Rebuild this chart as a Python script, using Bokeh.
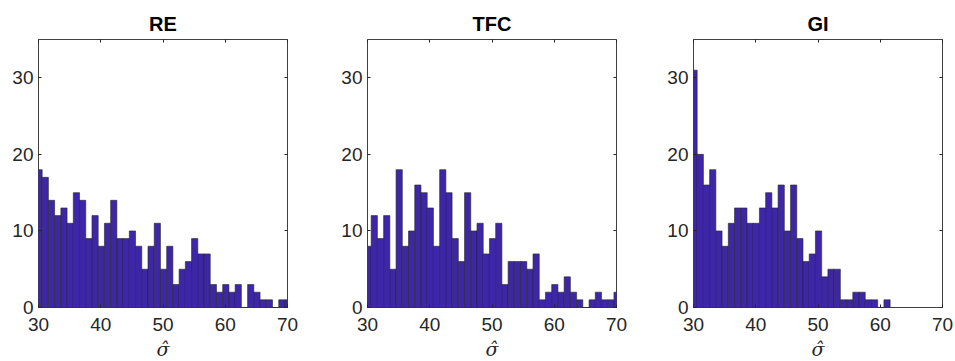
from bokeh.plotting import figure
from bokeh.layouts import row
from bokeh.models import LinearAxis, FixedTicker, Range1d, ColumnDataSource
from bokeh.embed import file_html
from bokeh.resources import INLINE

# Histogram bins: unit width, first edge just below 30
BIN_START = 29.59
BIN_WIDTH = 1.0

re_counts = [18, 17, 14, 12, 13, 11, 15, 14, 9, 12, 8, 11, 14, 9, 9, 10, 8, 5, 8, 11,
             5, 8, 3, 5, 6, 9, 7, 7, 3, 2, 3, 2, 3, 0, 3, 2, 1, 1, 0, 1, 1]
tfc_counts = [8, 12, 9, 12, 5, 18, 8, 10, 16, 15, 13, 8, 18, 15, 9, 6, 15, 10, 11,
              7, 9, 11, 3, 6, 6, 6, 5, 7, 1, 2, 3, 2, 4, 2, 1, 0, 1, 2, 1, 1, 2]
gi_counts = [31, 20, 16, 18, 10, 8, 11, 13, 13, 11, 11, 13, 15, 13, 16, 10, 16, 9, 6, 7,
             10, 4, 5, 5, 1, 1, 2, 2, 1, 1, 0, 1]

panel_titles = ["RE", "TFC", "GI"]
x_ticks = [30, 40, 50, 60, 70]
y_ticks = [0, 10, 20, 30]
x_label = "σ̂"

BAR_FILL = "#3e26a8"
EDGE = "#262626"
FONT = "Liberation Sans"


def make_panel(title, counts, border_left, border_right):
    lefts = [BIN_START + i * BIN_WIDTH for i in range(len(counts))]
    rights = [l + BIN_WIDTH for l in lefts]
    src = ColumnDataSource(dict(left=lefts, right=rights, top=counts,
                                bottom=[0] * len(counts)))
    p = figure(frame_width=249, frame_height=268,
               x_range=Range1d(30, 70), y_range=Range1d(0, 35),
               output_backend="svg", toolbar_location=None,
               min_border_left=border_left, min_border_right=border_right,
               min_border_top=39, min_border_bottom=54,
               background_fill_color="white", border_fill_color="white")
    p.quad(left="left", right="right", top="top", bottom="bottom", source=src,
           fill_color=BAR_FILL, line_color=EDGE, line_width=0.6)

    p.title.text = title
    p.title.align = "center"
    p.title.text_font = FONT
    p.title.text_font_size = "20px"
    p.title.text_font_style = "bold"
    p.title.text_color = "black"

    p.grid.visible = False
    p.outline_line_color = "#404040"
    p.outline_line_width = 1

    for ax in (p.xaxis[0], p.yaxis[0]):
        ax.axis_line_color = None
        ax.major_tick_in = 3
        ax.major_tick_out = 0
        ax.minor_tick_line_color = None
        ax.major_tick_line_color = EDGE
        ax.major_label_text_font = FONT
        ax.major_label_text_font_size = "19px"
        ax.major_label_text_color = "#262626"
    p.xaxis[0].ticker = FixedTicker(ticks=x_ticks)
    p.yaxis[0].ticker = FixedTicker(ticks=y_ticks)
    p.xaxis[0].major_label_standoff = 10
    p.yaxis[0].major_label_standoff = 5
    p.xaxis[0].axis_label = x_label
    p.xaxis[0].axis_label_text_font = "DejaVu Serif"
    p.xaxis[0].axis_label_text_font_style = "italic"
    p.xaxis[0].axis_label_text_font_size = "19px"
    p.xaxis[0].axis_label_text_color = "#262626"
    p.xaxis[0].axis_label_standoff = 4

    # tick marks on the top and right edges of the box
    for side, ticks in (("above", x_ticks), ("right", y_ticks)):
        ax = LinearAxis(ticker=FixedTicker(ticks=ticks))
        ax.axis_line_color = None
        ax.major_tick_in = 3
        ax.major_tick_out = 0
        ax.minor_tick_line_color = None
        ax.major_tick_line_color = EDGE
        ax.major_label_text_color = None
        ax.major_label_standoff = 0
        p.add_layout(ax, side)
    return p


p1 = make_panel(panel_titles[0], re_counts, 38, 40)
p2 = make_panel(panel_titles[1], tfc_counts, 40, 38)
p3 = make_panel(panel_titles[2], gi_counts, 39, 13)

layout = row(p1, p2, p3, spacing=0)
open("out.html", "w").write(file_html(layout, INLINE))
